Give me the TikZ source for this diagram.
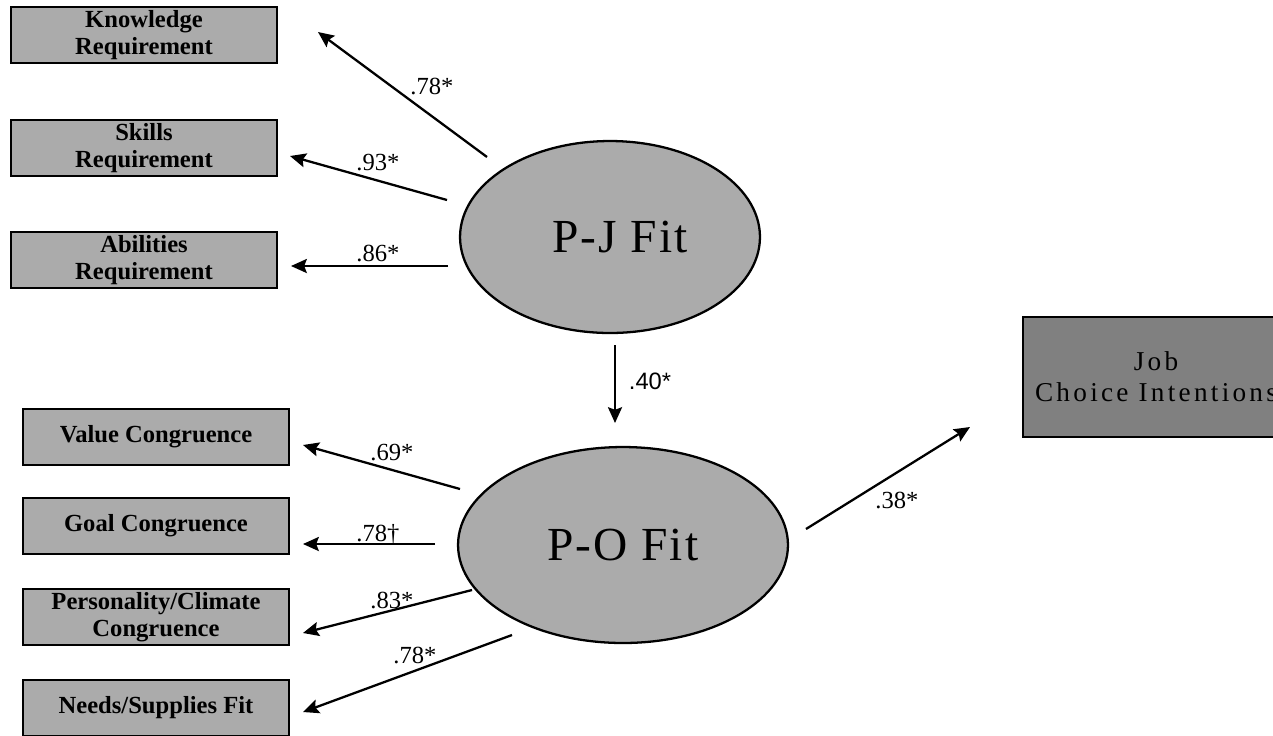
\documentclass[tikz,border=0pt]{standalone}
\usepackage{fontspec}
\setmainfont{Liberation Serif}
\newfontfamily\jobfont[LetterSpace=12]{Liberation Serif}
\newfontfamily\fitfont[LetterSpace=4]{Liberation Serif}
\newfontfamily\labsans{Liberation Sans}
\usetikzlibrary{positioning,arrows.meta,shapes.geometric}

\begin{document}
\begin{tikzpicture}[x=0.02cm,y=-0.02cm,>={Stealth[length=9pt,width=8pt,inset=1.5pt]},
  indbox/.style={draw,line width=1.1pt,fill=black!33,minimum width=5.32cm,minimum height=1.12cm,align=center,inner sep=0pt,
    font=\bfseries\fontsize{14}{15.5}\selectfont},
  jobbox/.style={draw,line width=1.1pt,fill=black!50,minimum width=5.34cm,minimum height=2.4cm,align=center,inner sep=0pt,
    font=\jobfont\fontsize{15.5}{17.5}\selectfont},
  fitnode/.style={ellipse,draw,line width=1.3pt,fill=black!33,inner sep=0pt,font=\fitfont\fontsize{27}{31}\selectfont},
  path/.style={->,line width=1.3pt},
  coef/.style={font=\fontsize{14}{16}\selectfont,inner sep=1pt}]
  \useasboundingbox (0,0) rectangle (1273,735);

  % indicators of P-J fit
  \node[indbox] (know) at (144,35) {Knowledge\\Requirement};
  \node[indbox] (skill) at (144,148) {Skills\\Requirement};
  \node[indbox] (abil) at (144,260) {Abilities\\Requirement};

  % indicators of P-O fit
  \node[indbox] (value) at (156,437) {Value Congruence};
  \node[indbox] (goal) at (156,526) {Goal Congruence};
  \node[indbox] (pers) at (156,617) {Personality/Climate\\Congruence};
  \node[indbox] (needs) at (156,708) {Needs/Supplies Fit};

  % latent factors and outcome
  \node[fitnode,minimum width=6cm,minimum height=3.84cm] (pj) at (610,237) {\hspace*{0.4cm}P-J Fit};
  \node[fitnode,minimum width=6.6cm,minimum height=3.92cm] (po) at (623,545) {P-O Fit};
  \node[jobbox] (job) at (1156,377) {Job\\Choice Intentions};

  % arrow ends
  \coordinate (pjk) at (487,157); \coordinate (knowe) at (318,32);
  \coordinate (pjs) at (447,200); \coordinate (skille) at (290,156);
  \coordinate (pja) at (448,266); \coordinate (abile) at (291,266);
  \coordinate (pjd) at (615,345); \coordinate (pod) at (615,423);
  \coordinate (pov) at (460,489); \coordinate (valuee) at (303,445);
  \coordinate (pog) at (435,544); \coordinate (goale) at (303,544);
  \coordinate (pop) at (472,590); \coordinate (perse) at (303,633);
  \coordinate (pon) at (512,635); \coordinate (needse) at (303,712);
  \coordinate (poj) at (806,529); \coordinate (jobw) at (970,427);

  \draw[path] (pjk) -- (knowe);
  \draw[path] (pjs) -- (skille);
  \draw[path] (pja) -- (abile);
  \draw[path] (pjd) -- (pod);
  \draw[path] (pov) -- (valuee);
  \draw[path] (pog) -- (goale);
  \draw[path] (pop) -- (perse);
  \draw[path] (pon) -- (needse);
  \draw[path] (poj) -- (jobw);

  % loadings
  \node[coef] (l1) at (432,86) {.78*};
  \node[coef] (l2) at (378,163) {.93*};
  \node[coef] (l3) at (378,253) {.86*};
  \node[coef,font=\labsans\fontsize{13.5}{16}\selectfont] (l4) at (650,381) {.40*};
  \node[coef] (l5) at (392,453) {.69*};
  \node[coef,anchor=base] (l6) at (378,541) {.78\dag};
  \node[coef] (l7) at (392,600) {.83*};
  \node[coef] (l8) at (415,655) {.78*};
  \node[coef] (l9) at (897,500) {.38*};
\end{tikzpicture}
\end{document}
